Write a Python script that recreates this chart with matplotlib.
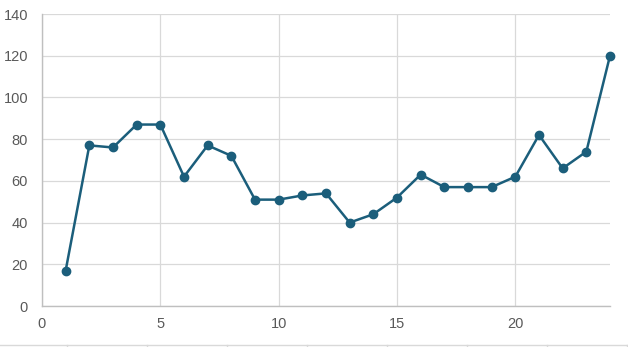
import matplotlib.pyplot as plt
from matplotlib.lines import Line2D

x = list(range(1, 25))
y = [17, 77, 76, 87, 87, 62, 77, 72, 51, 51, 53, 54,
     40, 44, 52, 63, 57, 57, 57, 62, 82, 66, 74, 120]

xticks = [0, 5, 10, 15, 20]
yticks = [0, 20, 40, 60, 80, 100, 120, 140]

W, H = 628, 347
fig = plt.figure(figsize=(W / 100, H / 100), dpi=100)
ax = fig.add_axes([42 / W, 1 - 306 / H, 568 / W, 292 / H])

line_color = '#1b5e7b'
grid_color = '#d9d9d9'
text_color = '#595959'

ax.plot(x, y, color=line_color, lw=1.8, marker='o', markersize=6,
        zorder=3, clip_on=False)

ax.set_xlim(0, 24)
ax.set_ylim(0, 140)
ax.set_xticks(xticks)
ax.set_yticks(yticks)
ax.grid(True, color=grid_color, lw=0.9)
ax.set_axisbelow(True)

for side in ['top', 'right']:
    ax.spines[side].set_visible(False)
for side in ['left', 'bottom']:
    ax.spines[side].set_color('#bfbfbf')
    ax.spines[side].set_linewidth(1)

ax.tick_params(length=0, labelsize=10.5, labelcolor=text_color)
ax.tick_params(axis='x', pad=8)
ax.tick_params(axis='y', pad=10)
for lab in ax.get_xticklabels() + ax.get_yticklabels():
    lab.set_fontfamily('Liberation Sans')

# thin ruler line along the bottom edge of the image
yb = 1 - 345 / H
fig.add_artist(Line2D([0, 1], [yb, yb], transform=fig.transFigure,
                      color='#d9d9d9', lw=1))
for px in range(67, 628, 80):
    fig.add_artist(Line2D([px / W, px / W], [yb, 0], transform=fig.transFigure,
                          color='#d9d9d9', lw=1))

fig.savefig('out.png', dpi=100)
